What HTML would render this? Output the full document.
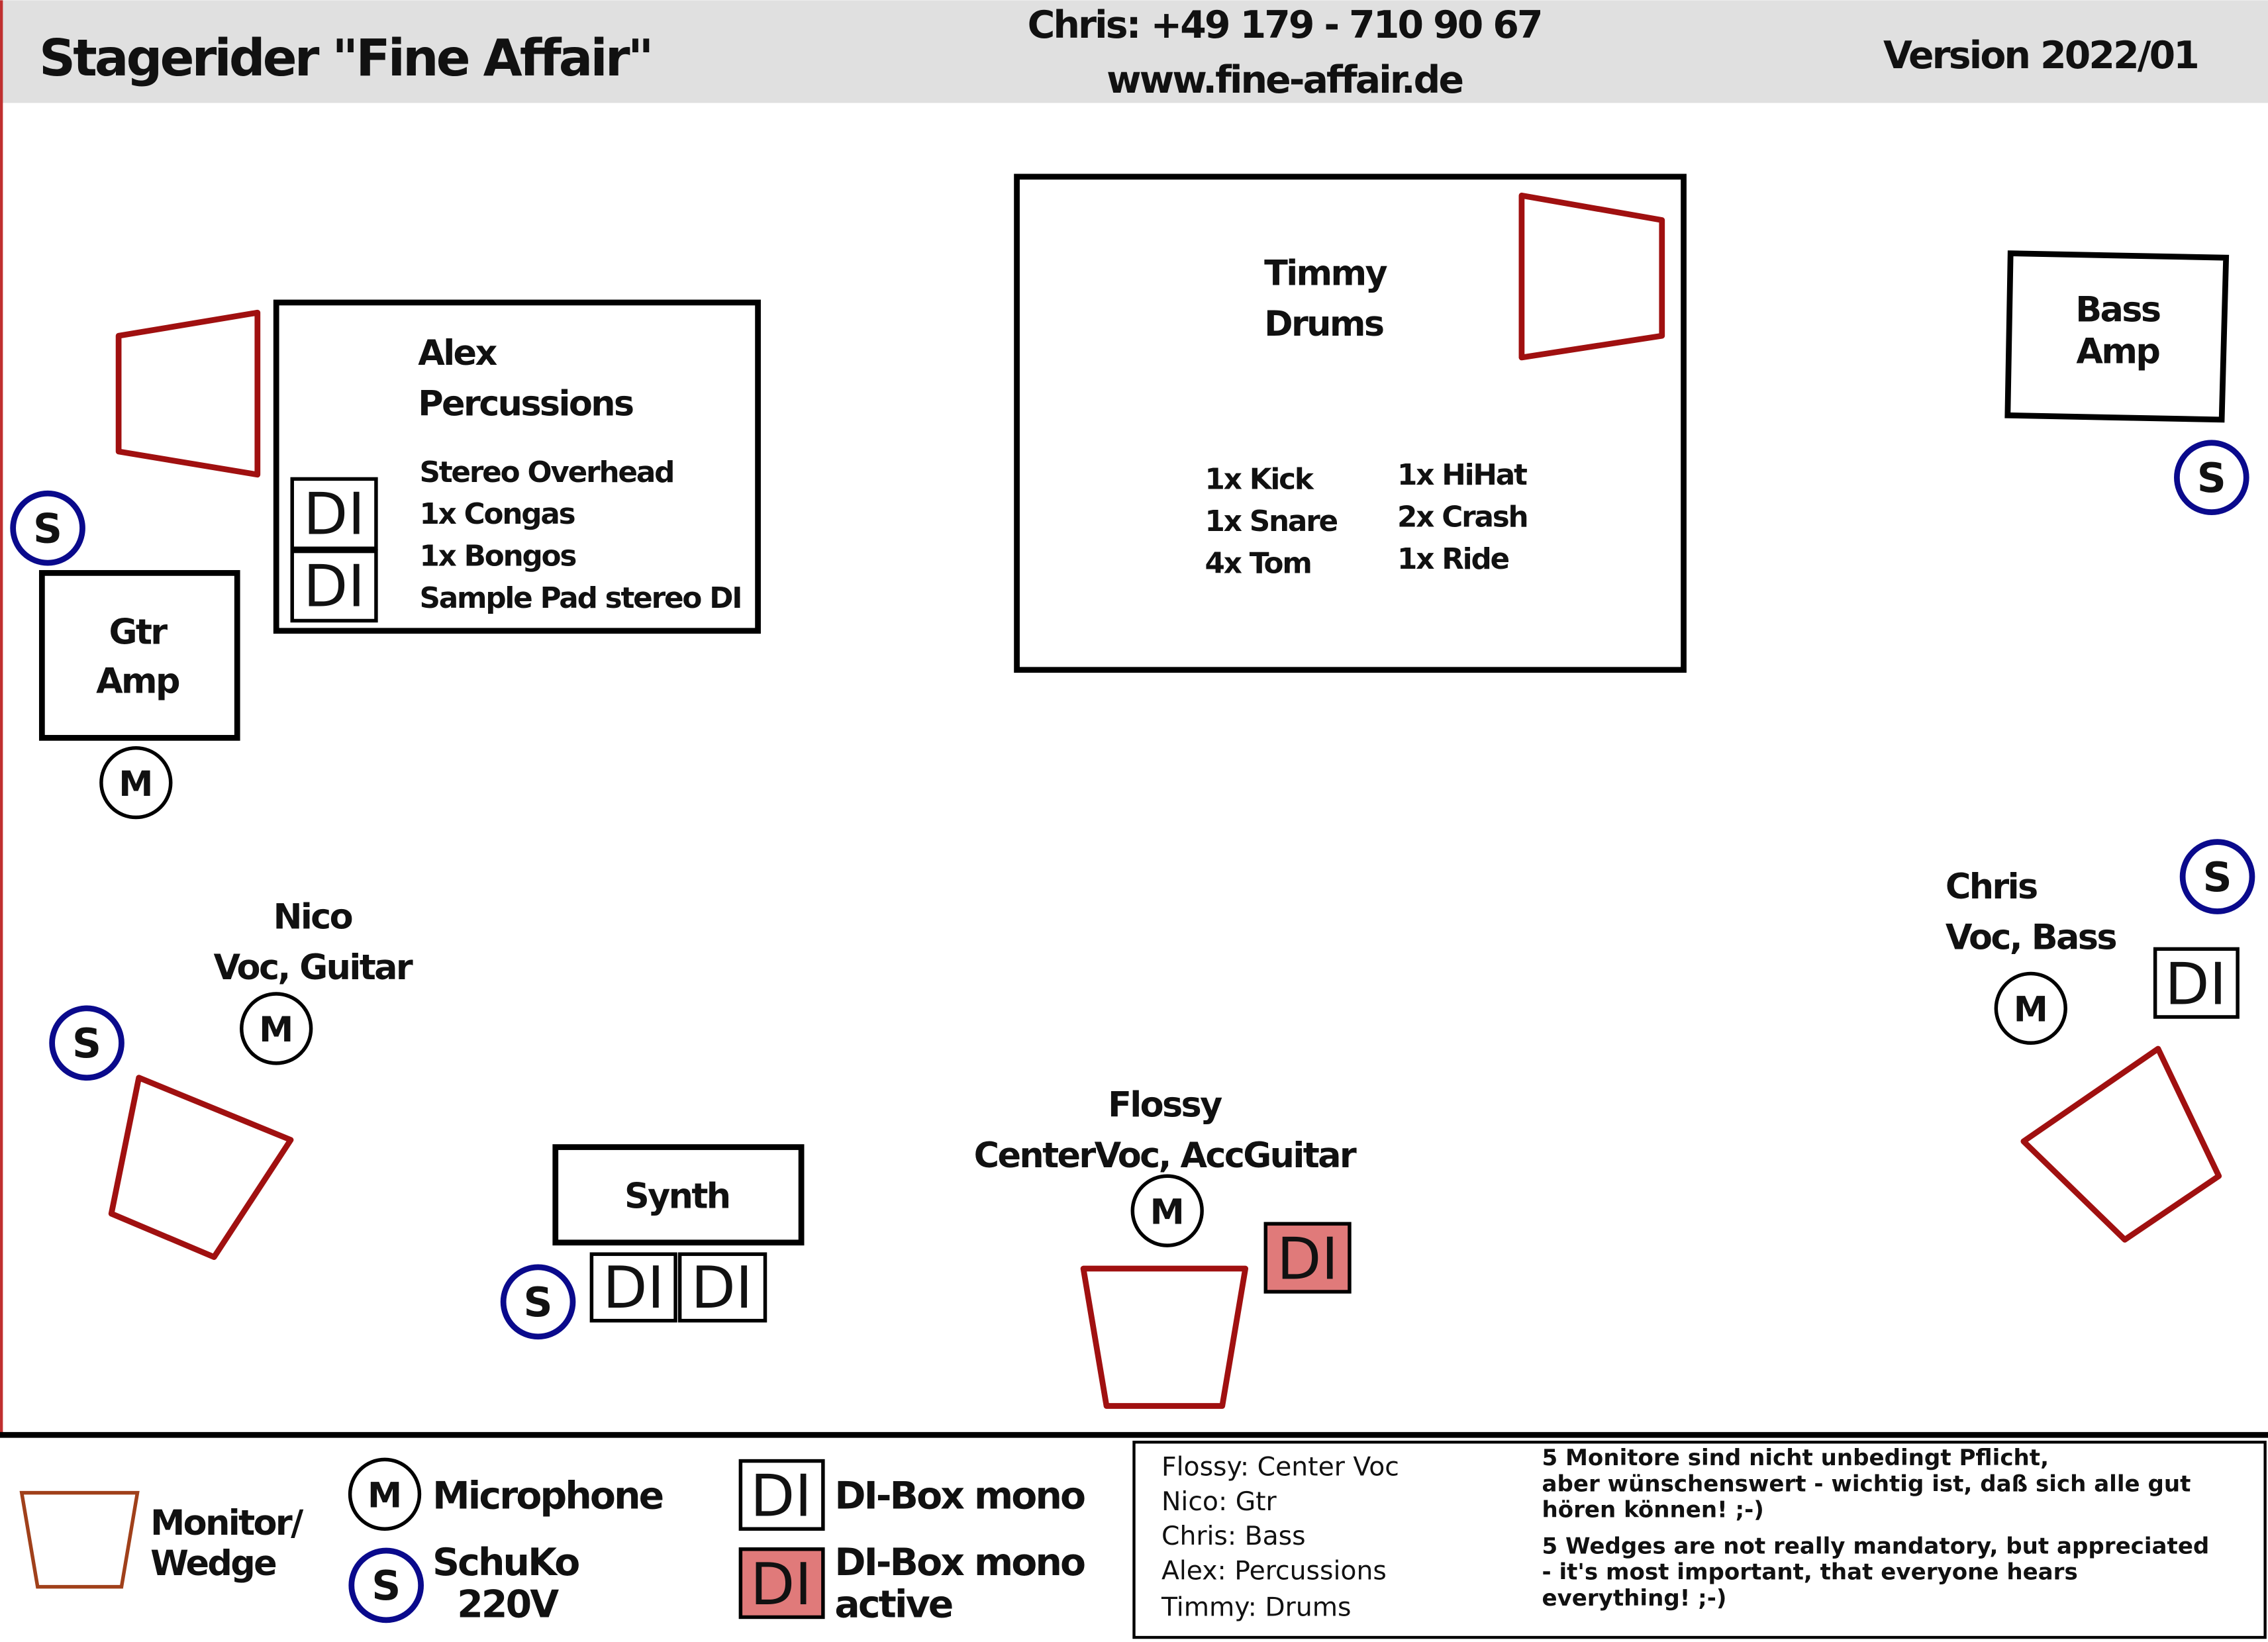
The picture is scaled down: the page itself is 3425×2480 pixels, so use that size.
<!DOCTYPE html>
<html><head><meta charset="utf-8"><style>
html,body{margin:0;padding:0;background:#fff;}
svg{display:block;}
text{font-family:"DejaVu Sans","Liberation Sans",sans-serif;fill:#111;}
.b{font-weight:bold;letter-spacing:-0.05em;}
.s{font-weight:bold;}
</style></head><body>
<svg width="3425" height="2480" viewBox="0 0 1568 1135" xmlns="http://www.w3.org/2000/svg">
<rect x="0" y="0" width="1568" height="1135" fill="#fff"/>
<rect x="0" y="0" width="1568" height="71" fill="#e0e0e0"/>
<line x1="1" y1="0" x2="1" y2="992" stroke="#c03030" stroke-width="2"/>
<text x="27" y="52" class="b" font-size="35">Stagerider "Fine Affair"</text>
<text x="888" y="26" class="b" font-size="26" text-anchor="middle">Chris: +49 179 - 710 90 67</text>
<text x="888" y="64" class="b" font-size="26" text-anchor="middle">www.fine-affair.de</text>
<text x="1302" y="47" class="b" font-size="26">Version 2022/01</text>

<g fill="none" stroke="#000" stroke-width="4">
<rect x="703" y="122" width="461" height="341"/>
<rect x="191" y="209" width="333" height="227"/>
<rect x="29" y="396" width="135" height="114"/>
<polygon points="1390,175 1539,178 1536,290 1388,287"/>
<rect x="384" y="793" width="170" height="66"/>
</g>
<g fill="none" stroke="#a01010" stroke-width="4" stroke-linejoin="round">
<polygon points="1052,135 1149,152 1149,232 1052,247"/>
<polygon points="82,232 178,216 178,328 82,312"/>
<polygon points="96,745 201,788 148,869 77,839"/>
<polygon points="749,877 861,877 845,972 765,972"/>
<polygon points="1399,789 1492,725 1534,813 1469,857"/>
</g>

<text x="874" y="197" class="b" font-size="24">Timmy</text>
<text x="874" y="232" class="b" font-size="24">Drums</text>
<g font-size="20">
<text x="833" y="338" class="b">1x Kick</text>
<text x="833" y="367" class="b">1x Snare</text>
<text x="833" y="396" class="b">4x Tom</text>
<text x="966" y="335" class="b">1x HiHat</text>
<text x="966" y="364" class="b">2x Crash</text>
<text x="966" y="393" class="b">1x Ride</text>
<text x="290" y="333" class="b">Stereo Overhead</text>
<text x="290" y="362" class="b">1x Congas</text>
<text x="290" y="391" class="b">1x Bongos</text>
<text x="290" y="420" class="b">Sample Pad stereo DI</text>
</g>
<text x="289" y="252" class="b" font-size="24">Alex</text>
<text x="289" y="287" class="b" font-size="24">Percussions</text>
<text x="95" y="445" class="b" font-size="24" text-anchor="middle">Gtr</text>
<text x="95" y="479" class="b" font-size="24" text-anchor="middle">Amp</text>
<text x="1464" y="222" class="b" font-size="24" text-anchor="middle">Bass</text>
<text x="1464" y="251" class="b" font-size="24" text-anchor="middle">Amp</text>
<text x="216" y="642" class="b" font-size="24" text-anchor="middle">Nico</text>
<text x="216" y="677" class="b" font-size="24" text-anchor="middle">Voc, Guitar</text>
<text x="468" y="835" class="b" font-size="24" text-anchor="middle">Synth</text>
<text x="805" y="772" class="b" font-size="24" text-anchor="middle">Flossy</text>
<text x="805" y="807" class="b" font-size="24" text-anchor="middle">CenterVoc, AccGuitar</text>
<text x="1345" y="621" class="b" font-size="24">Chris</text>
<text x="1345" y="656" class="b" font-size="24">Voc, Bass</text>

<g stroke="#000" stroke-width="2.5" fill="#fff">
<rect x="202" y="331" width="58" height="48"/>
<rect x="202" y="381" width="58" height="48"/>
<rect x="409" y="867" width="58" height="46"/>
<rect x="470" y="867" width="59" height="46"/>
<rect x="1490" y="656" width="57" height="47"/>
<rect x="512" y="1010" width="57" height="47"/>
<rect x="875" y="846" width="58" height="47" fill="#e07a7a"/>
<rect x="512" y="1071" width="57" height="47" fill="#e07a7a"/>
</g>
<g font-size="40" text-anchor="middle">
<text x="231" y="369">DI</text>
<text x="231" y="419">DI</text>
<text x="438" y="904">DI</text>
<text x="499" y="904">DI</text>
<text x="1518" y="694">DI</text>
<text x="540" y="1048">DI</text>
<text x="904" y="884">DI</text>
<text x="540" y="1109">DI</text>
</g>

<g fill="#fff" stroke="#000" stroke-width="2.5">
<circle cx="94" cy="541" r="24"/>
<circle cx="191" cy="711" r="24"/>
<circle cx="807" cy="837" r="24"/>
<circle cx="1404" cy="697" r="24"/>
<circle cx="266" cy="1033" r="24"/>
</g>
<g font-size="24" text-anchor="middle">
<text x="94" y="550" class="s">M</text>
<text x="191" y="720" class="s">M</text>
<text x="807" y="846" class="s">M</text>
<text x="1404" y="706" class="s">M</text>
<text x="266" y="1042" class="s">M</text>
</g>
<g fill="#fff" stroke="#0a0a8c" stroke-width="4">
<circle cx="33" cy="365" r="24"/>
<circle cx="1529" cy="330" r="24"/>
<circle cx="1533" cy="606" r="24"/>
<circle cx="60" cy="721" r="24"/>
<circle cx="372" cy="900" r="24"/>
<circle cx="267" cy="1096" r="24"/>
</g>
<g font-size="28" text-anchor="middle">
<text x="33" y="375" class="s">S</text>
<text x="1529" y="340" class="s">S</text>
<text x="1533" y="616" class="s">S</text>
<text x="60" y="731" class="s">S</text>
<text x="372" y="910" class="s">S</text>
<text x="267" y="1106" class="s">S</text>
</g>

<line x1="0" y1="992" x2="1568" y2="992" stroke="#000" stroke-width="4"/>
<polygon points="15,1032 95,1032 84,1097 26,1097" fill="none" stroke="#a0401a" stroke-width="2.5"/>
<text x="104" y="1061" class="b" font-size="24">Monitor/</text>
<text x="104" y="1089" class="b" font-size="24">Wedge</text>
<text x="299" y="1043" class="b" font-size="26">Microphone</text>
<text x="299" y="1089" class="b" font-size="26">SchuKo</text>
<text x="316" y="1118" class="b" font-size="26">220V</text>
<text x="577" y="1043" class="b" font-size="26">DI-Box mono</text>
<text x="577" y="1089" class="b" font-size="26">DI-Box mono</text>
<text x="577" y="1118" class="b" font-size="26">active</text>

<rect x="784" y="997" width="782" height="135" fill="none" stroke="#000" stroke-width="2"/>
<g font-size="18">
<text x="803" y="1020">Flossy: Center Voc</text>
<text x="803" y="1044">Nico: Gtr</text>
<text x="803" y="1068">Chris: Bass</text>
<text x="803" y="1092">Alex: Percussions</text>
<text x="803" y="1117">Timmy: Drums</text>
</g>
<g font-size="15.6">
<text x="1066" y="1013" class="s">5 Monitore sind nicht unbedingt Pflicht,</text>
<text x="1066" y="1031" class="s">aber wünschenswert - wichtig ist, daß sich alle gut</text>
<text x="1066" y="1049" class="s">hören können! ;-)</text>
<text x="1066" y="1074" class="s">5 Wedges are not really mandatory, but appreciated</text>
<text x="1066" y="1092" class="s">- it's most important, that everyone hears</text>
<text x="1066" y="1110" class="s">everything! ;-)</text>
</g>
</svg>
</body></html>
